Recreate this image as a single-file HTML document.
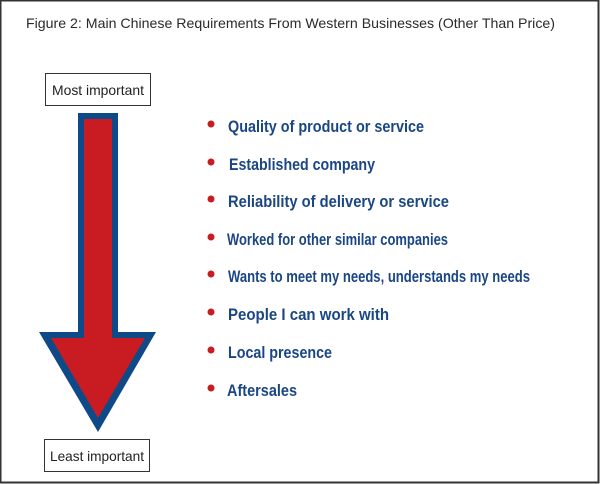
<!DOCTYPE html>
<html><head><style>
html,body{margin:0;padding:0;background:#fff;}
</style></head><body>
<svg width="600" height="484" viewBox="0 0 600 484" xmlns="http://www.w3.org/2000/svg" style="display:block">
<rect x="0.5" y="0.5" width="598" height="482" fill="#fff" stroke="#333" stroke-width="2"/>
<text x="26" y="28" font-family="Liberation Sans, sans-serif" font-size="14" fill="#2a2a2a" textLength="529" lengthAdjust="spacingAndGlyphs">Figure 2: Main Chinese Requirements From Western Businesses (Other Than Price)</text>
<rect x="45.5" y="73.5" width="105" height="32" fill="#fff" stroke="#333" stroke-width="1"/>
<text x="98" y="95" text-anchor="middle" font-family="Liberation Sans, sans-serif" font-size="14" fill="#222" textLength="92" lengthAdjust="spacingAndGlyphs">Most important</text>
<rect x="44.5" y="439.5" width="105" height="32" fill="#fff" stroke="#333" stroke-width="1"/>
<text x="97" y="461" text-anchor="middle" font-family="Liberation Sans, sans-serif" font-size="14" fill="#222" textLength="94" lengthAdjust="spacingAndGlyphs">Least important</text>
<polygon points="78,113 118,113 118,332 156,332 98,432 39,332 78,332" fill="#0e4a87"/>
<polygon points="84,119 112,119 112,338 145,338 98,418 51,338 84,338" fill="#c81b22"/>
<g fill="#c81b22">
<circle cx="211" cy="124" r="3.5"/><circle cx="211" cy="162" r="3.5"/><circle cx="211" cy="199" r="3.5"/><circle cx="211" cy="237" r="3.5"/><circle cx="211" cy="274" r="3.5"/><circle cx="211" cy="312" r="3.5"/><circle cx="211" cy="350" r="3.5"/><circle cx="211" cy="388" r="3.5"/>
</g>
<g font-family="Liberation Sans, sans-serif" font-weight="bold" font-size="17" fill="#1b4684">
<text x="228" y="132" textLength="196" lengthAdjust="spacingAndGlyphs">Quality of product or service</text>
<text x="229" y="170" textLength="146" lengthAdjust="spacingAndGlyphs">Established company</text>
<text x="228" y="207" textLength="221" lengthAdjust="spacingAndGlyphs">Reliability of delivery or service</text>
<text x="227" y="245" textLength="221" lengthAdjust="spacingAndGlyphs">Worked for other similar companies</text>
<text x="228" y="282" textLength="302" lengthAdjust="spacingAndGlyphs">Wants to meet my needs, understands my needs</text>
<text x="228" y="320" textLength="161" lengthAdjust="spacingAndGlyphs">People I can work with</text>
<text x="228" y="358" textLength="104" lengthAdjust="spacingAndGlyphs">Local presence</text>
<text x="227" y="396" textLength="70" lengthAdjust="spacingAndGlyphs">Aftersales</text>
</g>
</svg>
</body></html>
